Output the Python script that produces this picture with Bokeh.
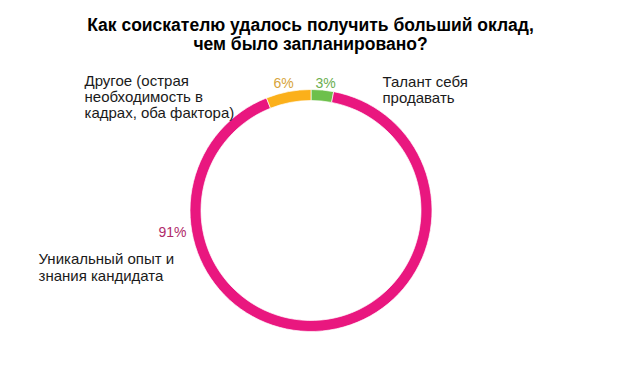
import numpy as np
from bokeh.plotting import figure
from bokeh.models import Range1d, ColumnDataSource
from bokeh.core.properties import value
from bokeh.embed import file_html
from bokeh.resources import INLINE

title_lines = ["Как соискателю удалось получить больший оклад,", "чем было запланировано?"]
categories = ["Талант себя продавать", "Уникальный опыт и знания кандидата",
              "Другое (острая необходимость в кадрах, оба фактора)"]
shares = [3, 91, 6]
pct_labels = ["3%", "91%", "6%"]
colors = ["#6DC04B", "#E9177F", "#FBB01A"]
pct_colors = ["#6AAE50", "#B02A6A", "#D7A43A"]

W, H = 604, 352
p = figure(width=W, height=H, output_backend="svg", toolbar_location=None,
           x_range=Range1d(0, W), y_range=Range1d(368 - H, 368),
           min_border=0, outline_line_color=None)
p.axis.visible = False
p.grid.visible = False
p.background_fill_color = "white"
p.border_fill_color = "white"

def Y(y):
    return 368 - y

# ring: clockwise from 12 o'clock
vals = np.array(shares, dtype=float)
frac = vals / vals.sum()
cum_end = np.cumsum(frac)
cum_start = cum_end - frac
start = np.pi / 2 - cum_end * 2 * np.pi
end = np.pi / 2 - cum_start * 2 * np.pi
cx, cy = 310.5, Y(210)
src = ColumnDataSource(dict(start=start, end=end, color=colors))
p.annular_wedge(x=cx, y=cy, inner_radius=110, outer_radius=121,
                start_angle="start", end_angle="end", color="color",
                line_color="white", line_width=0.7, source=src)

font = value("Liberation Sans")
# title
p.text(x=[310, 310], y=[Y(24), Y(43)], text=title_lines, text_font=font,
       text_font_size="17.5px", text_font_style="bold", text_color="#000000",
       text_align="center", text_baseline="middle")

# percentage labels
p.text(x=[315, 186, 273], y=[Y(82), Y(231), Y(82)], text=pct_labels,
       text_font=font, text_font_size="14px", text_color=pct_colors,
       text_align=["left", "right", "left"], text_baseline="middle")

# category labels
lab_x = [382, 382, 38, 38, 84, 84, 84]
lab_y = [81, 97, 258, 275, 80, 96, 112]
lab_t = ["Талант себя", "продавать", "Уникальный опыт и", "знания кандидата",
         "Другое (острая", "необходимость в", "кадрах, оба фактора)"]
p.text(x=lab_x, y=[Y(v) for v in lab_y], text=lab_t, text_font=font,
       text_font_size="15px", text_color="#1a1a1a",
       text_align="left", text_baseline="middle")

open("out.html", "w").write(file_html(p, INLINE))
